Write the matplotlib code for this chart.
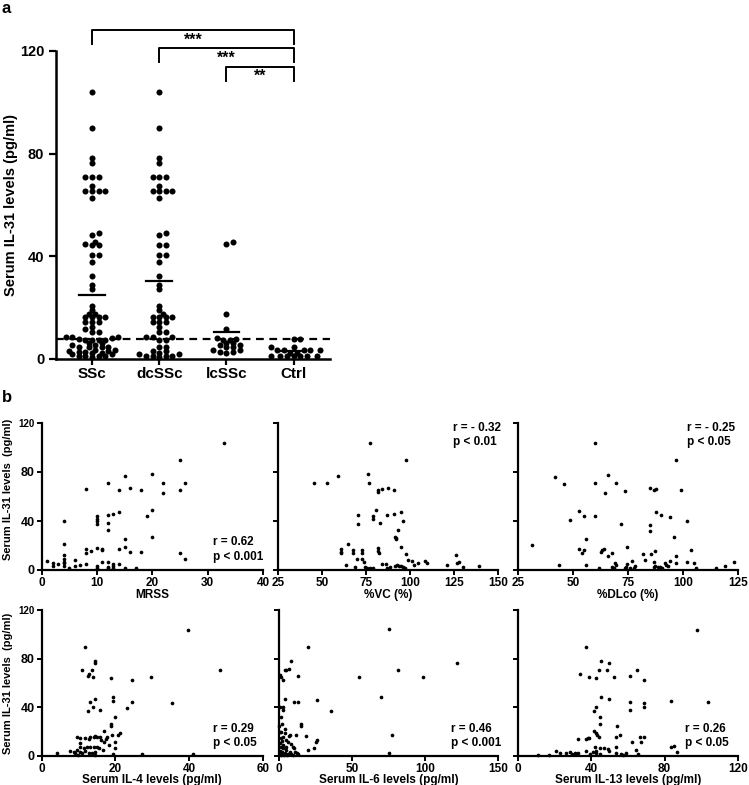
import numpy as np
import matplotlib
matplotlib.use('Agg')
import matplotlib.pyplot as plt

plt.rcParams['font.family'] = ['Liberation Sans', 'DejaVu Sans']
plt.rcParams['font.weight'] = 'bold'
plt.rcParams['axes.labelweight'] = 'bold'

# ---- panel a data (pg/ml) ----
groups = ['SSc', 'dcSSc', 'lcSSc', 'Ctrl']
dcssc = [104, 89.9, 78.3, 76.5, 70.9, 70.9, 70.9, 67.4, 65.4, 65.4, 65.4, 65.4, 62.8,
         49, 48.2, 44.4, 44.4, 40.5, 40.5, 37.7, 32.4, 28.8, 27.1, 20.6, 19.1, 17.4,
         16.2, 16.2, 16.2, 16.2, 14.3, 14.3, 14.3, 12.3, 10.6, 10.6, 8.4, 8.4, 8.4,
         7.4, 7.4, 4.5, 4.5, 3.1, 3.1, 2.5, 1.9, 1.9, 1.2, 1.2, 1.2, 1.2, 0.8]
lcssc = [45.0, 45.6, 17.5, 11.6, 8.0, 7.6, 7.4, 7.4, 6.1, 6.1, 5.4, 5.4, 4.5, 4.5,
         3.5, 3.5, 2.6, 2.6, 2.2]
ctrl = [7.6, 7.6, 4.5, 4.5, 3.5, 3.5, 3.5, 3.5, 3.5, 2.4, 2.4, 1.2, 1.2, 1.2, 1.2,
        1.2, 1.2, 1.2]
ssc = dcssc + lcssc
cutoff = 7.6
sig_pairs = [(0, 3, '***'), (1, 3, '***'), (2, 3, '**')]

# ---- panel b data ----
mrss_x = [33, 25, 15, 20, 12, 22, 26, 8, 16, 14, 18, 22, 25, 20, 19, 14, 13, 12, 10, 10,
          10, 10, 12, 12, 4, 20, 15, 15, 4, 16, 18, 25, 26, 14, 11, 11, 10, 8, 8, 9, 4, 4,
          4, 4, 6, 1, 2, 2, 3, 4, 5, 6, 7, 8, 10, 10, 10, 11, 12, 12, 12, 13, 13, 14, 15,
          17, 13]
mrss_y = [104, 90, 77, 78.5, 71.4, 70.8, 71.4, 66, 67.3, 64.9, 64.9, 63.2, 64.9, 49, 44.1,
          47.7, 45.8, 44.7, 44.1, 42, 40, 37.6, 38.1, 32.7, 40, 27.2, 25.3, 19.1, 21, 14.7,
          14.4, 14.2, 8.7, 16.9, 16.9, 16, 17.7, 16.9, 14.2, 15.8, 12.3, 9, 6.8, 5.4, 8.2,
          7.4, 6, 3.5, 4.6, 3.5, 1.9, 3.3, 4.1, 4.9, 3.3, 1.9, 0.5, 6.8, 6.8, 2.7, 1.4,
          3.3, 1.4, 4.6, 1.9, 1.4, 4.9]

vc_x = [77, 98, 59, 76, 45.5, 52.6, 76.7, 81.7, 81.7, 83.9, 87.7, 91, 80.7, 70.6, 70.6,
        78.8, 78.8, 86.8, 91, 95, 95.9, 83, 92.9, 91.5, 91.8, 92, 95, 64.5, 60.7, 60.7,
        61, 67.8, 67.8, 72.9, 72.9, 81.7, 82, 82.4, 97.6, 69.7, 72.9, 73.9, 99.1, 101,
        104.8, 108.3, 109.6, 121, 126.3, 126.7, 127.7, 130, 139, 63.6, 68.7, 74.4, 75.4,
        77.3, 78.8, 83.9, 86.2, 88.7, 91.5, 92.5, 93.8, 95, 96.3, 97.2, 102, 86.8]
vc_y = [103.4, 90, 77, 78.4, 70.8, 71.4, 71.4, 64.9, 63.5, 65.9, 67.3, 65.4, 49, 44.7, 37.6,
        44.1, 41.4, 45, 45.8, 47.7, 40.3, 38.1, 32.7, 27.2, 25.9, 25, 19.1, 21, 16.9, 15,
        13.6, 16.3, 14.2, 16.3, 13.6, 17.7, 15.5, 14.2, 12.8, 8.7, 8.7, 6.8, 8.2, 7.6, 6,
        7.6, 6, 4.1, 12.3, 5.4, 6.8, 2.7, 3.3, 4.1, 2.7, 2.7, 1.4, 1.9, 1.4, 4.9, 4.9, 2.7,
        3.3, 4.1, 3.6, 3.3, 2.2, 1.4, 4.1, 1.4]

dl_x = [60, 97, 41.7, 65.9, 45.8, 59.8, 69.7, 64.7, 73.8, 84.8, 86.8, 87.9, 98.9, 52.7,
        54.8, 59.8, 48.8, 87.9, 89.8, 93.9, 84.8, 84.8, 71.7, 102, 95.9, 55.8, 31.5, 52.7,
        54.2, 55, 74.7, 63.3, 63.9, 62.9, 87.4, 67.9, 65.9, 81.8, 85.6, 97, 103.8, 43.6,
        55.8, 68.9, 69.7, 74.7, 77, 82.9, 86.8, 87.4, 88.6, 89.4, 87, 92, 92.4, 93.2, 93.9,
        97, 102, 104.8, 106, 115.2, 118.9, 123, 61.8, 67.9, 68.5, 73.5, 74.2, 75.8, 77.6,
        78, 90.6]
dl_y = [103.5, 89.4, 76.3, 77.9, 70.3, 70.8, 70.8, 62.7, 64.6, 66.8, 64.9, 65.9, 64.9, 48.5,
        44.1, 44.1, 40.9, 47.7, 45, 43.6, 36.8, 32.2, 37.6, 40, 26.7, 25, 20.4, 16.9, 13.6,
        16.3, 18.8, 16.3, 16.9, 15, 15.8, 13.6, 11.4, 13.1, 13.1, 11.4, 16.3, 3.8, 4.4, 5.4,
        3.8, 4.9, 7.6, 8.2, 6.8, 3.3, 2.7, 2.2, 2.7, 6, 4.1, 3.3, 7.6, 6, 6.5, 6, 1.4, 1.9,
        3.3, 6.8, 1.4, 2.7, 1.4, 1.4, 2.7, 1.9, 1.4, 3.3, 1.4]

il4_x = [39.6, 48.4, 11.9, 14.4, 14.4, 11, 13.7, 12.8, 12.5, 14, 18.9, 24.5, 29.7, 13.2,
         14.6, 19.4, 19.4, 14, 12.5, 15.8, 24.5, 35.3, 23.2, 20, 18.9, 18.9, 16.8, 21.2,
         20.7, 19.1, 17.7, 17.6, 15.8, 15, 16.1, 14.6, 14.1, 13.2, 11.9, 10.5, 9.5, 10.4,
         12.8, 16.8, 18.2, 20, 20, 10.5, 11.4, 12.3, 13.2, 14.1, 15, 15.5, 7.7, 8.8, 9.2,
         9.7, 10.5, 11, 11.9, 13, 13.7, 14.4, 4.2, 14.6, 16.7, 27.2, 41, 19.5, 9.8]
il4_y = [103.6, 70.4, 90, 77.7, 76.6, 70.9, 70.4, 67.1, 65.5, 64.9, 64.4, 62.7, 64.9, 44.5,
         47.2, 48.5, 45.3, 40.4, 36.8, 37.6, 44.5, 43.6, 39.8, 32.2, 26.7, 24.5, 20.7, 18.5,
         17.2, 17.2, 15.8, 13.6, 15.8, 15.8, 13.1, 16.4, 15.3, 15.8, 14.5, 14.5, 15.8, 10.9,
         13.6, 11.7, 9, 11.7, 6.3, 7.6, 6.3, 7.6, 7.6, 7.1, 7.6, 6.3, 4.4, 3.5, 2.2, 4.9,
         3.5, 2.2, 4.4, 2.7, 2.2, 3.5, 2.2, 0.8, 4.9, 1.6, 1.4, 1.6, 0.8]

il6_x = [75.5, 19.9, 8.5, 122.2, 81.2, 3.9, 5, 6.6, 0.9, 1.6, 2.7, 13, 54.7, 98.4, 69.8,
         26.1, 3.9, 2.7, 0.5, 1.6, 2.7, 10.3, 13, 35.9, 15.3, 15.3, 77.1, 18.8, 26.1, 25.2,
         23.8, 19.9, 11.4, 6.9, 5, 75.5, 13, 0.5, 1.6, 2.7, 1.2, 3.9, 7.3, 6, 8.3, 9.4,
         10.5, 1.6, 2.7, 5, 7.3, 2.3, 3.9, 0.5, 1.6, 6, 8.3, 9.4, 0, 3, 4.5, 0.8, 2, 1,
         3.5, 5.5, 11, 12, 0.3, 2, 4]
il6_y = [104.4, 90, 78, 76.6, 70.9, 70.4, 70.9, 71.2, 66.3, 64.9, 62.7, 65.7, 64.9, 64.9,
         48.5, 45.8, 47.2, 40.4, 40.4, 32.2, 37.6, 44.5, 44.5, 37.1, 26.7, 24.5, 17.2, 16.4,
         13.1, 11.7, 6.3, 4.9, 17.2, 16.4, 13.1, 2.7, 1.6, 20, 19.4, 15.5, 15, 18.5, 17.2,
         11.5, 10, 7.6, 6.3, 7.6, 6.3, 4.9, 3.5, 3.5, 2.2, 2.2, 0.8, 1.4, 1.4, 0.8, 0.8, 9,
         7, 11, 12, 4.5, 1, 0.5, 3, 2.5, 25, 26, 22]

il13_x = [97.6, 37.3, 45.5, 49.5, 34, 38.7, 42.4, 44.2, 48.7, 52.4, 61.3, 64.9, 68.7, 45.5,
          49.5, 42.7, 41.3, 61.3, 61.3, 68.7, 68.7, 83.3, 103.6, 44.5, 44.5, 54.2, 41.5,
          42.4, 43.3, 44, 38.7, 37.3, 38, 32.7, 53.6, 55.5, 62.4, 67.3, 66.7, 68.7, 83.3,
          85.1, 86.9, 53.3, 37.3, 41.8, 42.4, 44.5, 46.9, 49.1, 49.5, 41, 42.7, 20.9, 22.7,
          26, 28.2, 29.6, 30.9, 31.8, 32.7, 16.9, 10.9, 53.6, 56.4, 57.3, 59.1, 64.5, 65.5,
          44.5, 39.1]
il13_y = [103.6, 90, 78, 76.4, 67.1, 64.9, 64.4, 70.9, 70.9, 64.9, 65.5, 70.4, 62.7, 48.5,
          47.2, 40.4, 37.1, 44.2, 37.6, 43.6, 40.4, 45.3, 44.5, 32.2, 26.7, 24.8, 20.5, 19.1,
          17.2, 15.8, 14.5, 13.6, 14.5, 13.6, 15.8, 17.2, 11.7, 11.7, 15.8, 15.8, 7.6, 8.2,
          3.5, 7.6, 4.4, 7.6, 4.4, 6.3, 6.3, 5.5, 4.4, 3.5, 2.7, 4.4, 2.7, 2.2, 3.5, 1.6,
          2.7, 1.6, 2.2, 0.8, 0.8, 2.2, 1.6, 0.8, 2.2, 4.9, 1.6, 1.6, 1.6]

xlabels = ['MRSS', '%VC (%)', '%DLco (%)',
           'Serum IL-4 levels (pg/ml)', 'Serum IL-6 levels (pg/ml)', 'Serum IL-13 levels (pg/ml)']
xticks = [[0, 10, 20, 30, 40], [25, 50, 75, 100, 125, 150], [25, 50, 75, 100, 125],
          [0, 20, 40, 60], [0, 50, 100, 150], [0, 40, 80, 120]]
r_text = ['r = 0.62\np < 0.001', 'r = - 0.32\np < 0.01', 'r = - 0.25\np < 0.05',
          'r = 0.29\np < 0.05', 'r = 0.46\np < 0.001', 'r = 0.26\np < 0.05']
scatter_x = [mrss_x, vc_x, dl_x, il4_x, il6_x, il13_x]
scatter_y = [mrss_y, vc_y, dl_y, il4_y, il6_y, il13_y]

W, H = 749, 785
fig = plt.figure(figsize=(W / 100, H / 100), dpi=100)


def rect(l, t, r, b):
    return [l / W, 1 - b / H, (r - l) / W, (b - t) / H]


def swarm(vals, xstep, ystep):
    # simple greedy beeswarm, offsets in x data units
    vals = np.asarray(vals, float)
    offs = np.zeros(len(vals))
    placed = []
    cands = [0.0] + [s * j * xstep / 2 for j in range(1, 30) for s in (1, -1)]
    for i in np.argsort(vals):
        y = vals[i]
        for c in cands:
            if all(((c - po) / xstep) ** 2 + ((y - py) / ystep) ** 2 >= 1 for po, py in placed):
                break
        offs[i] = c
        placed.append((c, y))
    return offs


# ---------------- panel a ----------------
ax = fig.add_axes(rect(56, 51, 330, 359))
x0, x1 = -0.535, 3.54
ax.set_xlim(x0, x1)
ax.set_ylim(0, 120)
px_x = 274 / (x1 - x0)
px_y = 308 / 120
for i, vals in enumerate([ssc, dcssc, lcssc, ctrl]):
    offs = swarm(vals, 6.6 / px_x, 3.4 / px_y)
    ax.scatter(i + offs, vals, s=19, color='black', linewidths=0, clip_on=False, zorder=3)
    m = np.mean(vals)
    ax.plot([i - 0.19, i + 0.19], [m, m], color='black', lw=1.6, zorder=4)
ax.axhline(cutoff, color='black', lw=1.6, ls=(0, (3.5, 2.5)), zorder=2)

for a, b, star in sig_pairs:
    yb = {0: 128, 1: 121, 2: 113.7}[a]
    ax.plot([a, a, b, b], [yb - 5.2, yb, yb, yb - 5.2], color='black', lw=1.4, clip_on=False)
    ax.text((a + b) / 2, yb - 3.7, star, ha='center', va='center', fontsize=11.5,
            fontweight='bold')

ax.set_xticks(range(4))
ax.set_xticklabels(groups, fontsize=11)
ax.set_yticks([0, 40, 80, 120])
ax.tick_params(axis='y', labelsize=10.5, width=1.6, length=5, direction='out')
ax.tick_params(axis='x', width=1.6, length=4, direction='out', pad=2)
for sp in ['top', 'right']:
    ax.spines[sp].set_visible(False)
for sp in ['left', 'bottom']:
    ax.spines[sp].set_linewidth(1.8)
ax.set_ylabel('Serum IL-31 levels (pg/ml)', fontsize=10.5)
ax.yaxis.set_label_coords(-0.137, 0.5)

fig.text(0.002, 0.999, 'a', fontsize=12, fontweight='bold', va='top', ha='left')
fig.text(0.002, 1 - 390 / H, 'b', fontsize=12, fontweight='bold', va='top', ha='left')

# ---------------- panel b ----------------
cols = [(41.5, 263), (278, 498), (518, 738)]
rows = [(423, 570), (610, 756)]
rpos = [(0.775, 0.14), (0.795, 0.92), (0.77, 0.92), (0.775, 0.135), (0.785, 0.135), (0.76, 0.135)]
for k in range(6):
    r, c = divmod(k, 3)
    l, rr = cols[c]
    t, b = rows[r]
    if k == 4:
        l = 279
    axb = fig.add_axes(rect(l, t, rr, b))
    axb.scatter(scatter_x[k], scatter_y[k], s=7, color='black', linewidths=0,
                clip_on=False, zorder=3)
    axb.set_xlim(xticks[k][0], xticks[k][-1])
    axb.set_ylim(0, 120)
    axb.set_xticks(xticks[k])
    axb.set_yticks([0, 40, 80, 120])
    for sp in ['top', 'right']:
        axb.spines[sp].set_visible(False)
    for sp in ['left', 'bottom']:
        axb.spines[sp].set_linewidth(1.6)
    axb.tick_params(width=1.4, length=3.5, direction='out', pad=1.5)
    axb.tick_params(axis='x', labelsize=8.5)
    axb.tick_params(axis='y', labelsize=9)
    axb.set_xlabel(xlabels[k], fontsize=8.5, labelpad=0 if r == 0 else -1)
    if c == 0:
        axb.set_ylabel('Serum IL-31 levels  (pg/ml)', fontsize=8)
        axb.yaxis.set_label_coords(-0.128, 0.55 if r == 0 else 0.5)
        axb.get_yticklabels()[-1].set_fontsize(7)
    else:
        axb.set_yticklabels([])
    axb.text(rpos[k][0], rpos[k][1], r_text[k], transform=axb.transAxes, fontsize=8.5,
             fontweight='bold', ha='left', va='center', linespacing=1.25)

fig.savefig('out.png', dpi=100)
